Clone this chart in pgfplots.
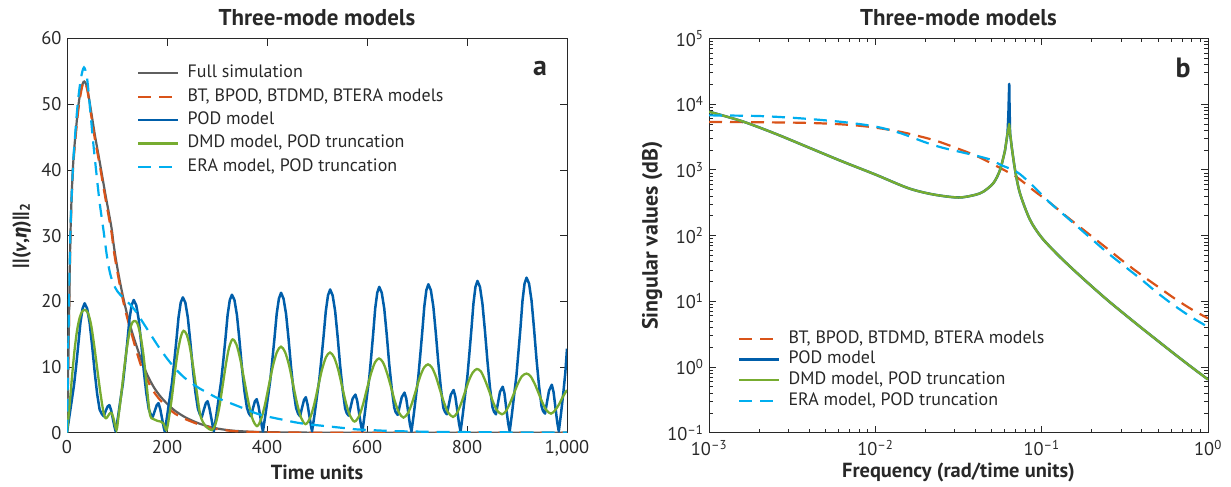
\documentclass[border=0pt]{standalone}
\usepackage{fontspec}
\setmainfont{PT Sans}
\newfontfamily\greekfont{Fira Sans}
\usepackage{pgfplots}
\pgfplotsset{compat=1.18}

\definecolor{cgray}{RGB}{95,95,95}
\definecolor{cbt}{RGB}{217,83,25}
\definecolor{cpod}{RGB}{0,94,170}
\definecolor{cdmd}{RGB}{119,172,48}
\definecolor{cera}{RGB}{0,174,239}
\definecolor{cax}{RGB}{40,40,40}

\pgfplotsset{
  mystyle/.style={
    scale only axis,
    axis line style={cax, line width=1bp},
    every tick/.style={cax, line width=0.8bp},
    major tick length=7bp, minor tick length=4bp,
    tick label style={font=\fontsize{18.5}{21}\selectfont, text=cax},
    xticklabel style={yshift=-4bp},
    yticklabel style={xshift=-2bp},
    /pgf/number format/assume math mode=true,
    every axis title/.style={at={(0.5,1.053)}, anchor=center, font=\bfseries\fontsize{23}{26}\selectfont, text=cax},
    every axis x label/.style={at={(0.5,-0.1)}, anchor=center, font=\bfseries\fontsize{20.5}{24}\selectfont, text=cax},
    legend cell align=left,
    legend style={draw=none, fill=none, font=\fontsize{18}{21}\selectfont, text=cax, column sep=7bp,
      nodes={inner sep=1bp, text height=13bp, text depth=4bp}},
    legend image code/.code={\draw[##1] (0bp,0bp) -- (40bp,0bp);},
  },
  dashedline/.style={dash pattern=on 13bp off 8bp, line width=2.2bp},
}

\begin{document}
\begin{tikzpicture}
\path[use as bounding box] (0bp,0bp) rectangle (1231bp,487bp);

% ---------------- panel a ----------------
\begin{axis}[mystyle,
  at={(67bp,54.3bp)}, anchor=south west,
  width=500bp, height=394.2bp,
  xmin=0, xmax=1000, ymin=0, ymax=60,
  xtick={0,200,400,600,800,1000},
  ytick={0,10,20,30,40,50,60},
  title={Three-mode models},
  xlabel={Time units},
  ylabel={||(\textit{v},{\greekfont\bfseries\itshape η})||\textsubscript{2}},
  every axis y label/.style={at={(-0.0904,0.5)}, rotate=90, anchor=center, font=\bfseries\fontsize{20}{23}\selectfont, text=cax},
  legend style={at={(0.134,0.9415)}, anchor=north west, row sep=4.4bp},
]
\addplot[cgray, line width=2.2bp, smooth] coordinates {
(0,0)(3,12.5)(7,30.5)(12,40.5)(19,47)(25,51)(33,53.4)(40,52.6)(48,49)(56,45.2)(65,41.4)(77,36.2)(89,31.2)(93,28.8)(100,25.4)(109,21.8)(119,18.4)(129,15.6)(139,13.2)(149,11.0)(160,8.9)(173,7.0)(186,5.6)(199,4.5)(215,3.4)(233,2.5)(250,1.85)(266,1.35)(283,0.95)(299,0.66)(316,0.45)(333,0.3)(366,0.15)(400,0.08)(450,0.03)(500,0.01)(600,0)(1000,0)};
\addlegendentry{Full simulation}
\addplot[cbt, dashedline, smooth] coordinates {
(0,0)(3,12)(7,30)(12,40)(19,46.5)(25,50.5)(33,53.4)(40,52.4)(48,48.5)(56,44.6)(65,40.9)(77,35.6)(89,30.5)(93,28.0)(100,24.8)(109,21.2)(119,17.9)(129,15.1)(139,12.4)(149,10.0)(160,8.1)(173,6.3)(186,5.0)(199,4.0)(215,2.95)(233,2.2)(250,1.65)(266,1.2)(283,0.85)(299,0.56)(316,0.38)(333,0.25)(366,0.12)(400,0.06)(450,0.02)(500,0.01)(600,0)(1000,0)};
\addlegendentry{BT, BPOD, BTDMD, BTERA models}
\addplot[cpod, line width=2.5bp, line join=round] coordinates {
(0,0)(4.6,2.4)(9.5,4.9)(14.1,7.3)(18.4,10.2)(22.6,13.4)(26.8,16.7)(31.1,18.9)(35.3,19.7)(40.3,18.9)(45.3,16.7)(50.3,13.2)(55.3,9.3)(60.3,5.9)(65.3,3.5)(69.3,2.9)(73.3,2.5)(77.3,3.3)(81.3,4.0)(84.8,4.2)(88.3,3.4)(92.3,1.9)(95.3,0.8)(97.3,0.2)
(102.0,2.4)(107.1,5.1)(111.8,7.5)(116.1,10.5)(120.5,13.7)(124.8,17.2)(129.2,19.4)(133.5,20.2)(138.5,19.4)(143.5,17.2)(148.5,13.5)(153.5,9.5)(158.5,6.1)(163.5,3.6)(167.5,2.8)(171.5,2.4)(175.5,3.3)(179.5,4.2)(183,4.5)(186.5,3.6)(190.5,2.0)(193.5,0.8)(195.5,0.2)
(200.2,2.5)(205.3,5.2)(210,7.6)(214.3,10.7)(218.7,14.0)(223,17.5)(227.4,19.8)(231.7,20.6)(236.7,19.8)(241.7,17.5)(246.7,13.8)(251.7,9.7)(256.7,6.2)(261.7,3.7)(265.7,2.8)(269.7,2.4)(273.7,3.5)(277.7,4.5)(281.2,4.8)(284.7,3.8)(288.7,2.2)(291.7,0.9)(293.7,0.2)
(298.4,2.5)(303.5,5.3)(308.2,7.8)(312.5,10.9)(316.9,14.3)(321.2,17.9)(325.6,20.2)(329.9,21.0)(334.9,20.2)(339.9,17.9)(344.9,14.1)(349.9,9.9)(354.9,6.3)(359.9,3.8)(363.9,2.9)(367.9,2.5)(371.9,3.7)(375.9,4.8)(379.4,5.1)(382.9,4.1)(386.9,2.3)(389.9,0.9)(391.9,0.2)
(396.6,2.6)(401.7,5.3)(406.4,7.9)(410.7,11.1)(415.1,14.5)(419.4,18.1)(423.8,20.4)(428.1,21.3)(433.1,20.4)(438.1,18.1)(443.1,14.3)(448.1,10.0)(453.1,6.4)(458.1,3.8)(462.1,2.9)(466.1,2.5)(470.1,3.8)(474.1,5.0)(477.6,5.4)(481.1,4.3)(485.1,2.4)(488.1,1.0)(490.1,0.2)
(494.8,2.6)(499.9,5.5)(504.6,8.1)(508.9,11.3)(513.3,14.8)(517.6,18.5)(522,20.9)(526.3,21.8)(531.3,20.9)(536.3,18.5)(541.3,14.6)(546.3,10.2)(551.3,6.5)(556.3,3.7)(559.3,3.0)(563.3,2.6)(567.3,3.9)(571.3,5.2)(576.8,5.8)(580.3,4.9)(584.3,2.9)(587.8,1.2)(590.8,0.2)
(595.2,2.7)(599.9,5.6)(604.3,8.2)(608.3,11.5)(612.4,15.1)(616.4,18.9)(620.5,21.3)(624.5,22.2)(629.5,21.3)(634.5,18.9)(639.5,14.9)(644.5,10.4)(649.5,6.7)(654.5,3.8)(657.5,3.1)(661.5,2.7)(665.5,4.1)(669.5,5.4)(675,6.1)(678.5,5.2)(682.5,3.1)(686,1.2)(689,0.2)
(693.4,2.7)(698.1,5.7)(702.5,8.4)(706.5,11.8)(710.6,15.4)(714.6,19.2)(718.7,21.7)(722.7,22.6)(727.7,21.7)(732.7,19.2)(737.7,15.1)(742.7,10.6)(747.7,6.8)(752.7,3.8)(755.7,3.2)(759.7,2.8)(763.7,4.3)(767.7,5.8)(773.2,6.5)(776.7,5.5)(780.7,3.3)(784.2,1.3)(787.2,0.2)
(791.6,2.8)(796.3,5.8)(800.7,8.5)(804.7,12.0)(808.8,15.7)(812.8,19.6)(816.9,22.2)(820.9,23.1)(825.9,22.2)(830.9,19.6)(835.9,15.5)(840.9,10.9)(845.9,6.9)(850.9,3.9)(853.9,3.2)(857.9,2.8)(861.9,4.5)(865.9,6.2)(871.4,7.0)(874.9,6.0)(878.9,3.5)(882.4,1.4)(885.4,0.2)
(889.8,2.8)(894.5,5.9)(898.9,8.7)(902.9,12.3)(907,16.0)(911,20.1)(915.1,22.7)(919.1,23.6)(924.1,22.7)(929.1,20.1)(934.1,15.8)(939.1,11.1)(944.1,7.1)(949.1,4.0)(952.1,3.3)(956.1,2.9)(960.1,4.7)(964.1,6.4)(969.6,7.3)(973.1,6.2)(977.1,3.7)(980.6,1.5)(983.6,0.2)(988,2.9)(992.7,6.1)(996.7,9.2)(1000,12.8)};
\addlegendentry{POD model}
\addplot[cdmd, line width=2.3bp, smooth, tension=0.5] coordinates {
(0,0)(5,4)(10,8.5)(15,12.5)(20,15.5)(25,17.4)(30,18.4)(36,18.7)(42,18.2)(48,16.5)(54,13.5)(60,10)(66,6.5)(72,3.5)(76,2.3)(80,2.3)(85,2.9)(89,3.0)(93,2.2)(99,0.4)
(103,2.5)(108,5.5)(114,9.5)(120,13)(126,15.7)(131,16.8)(136,17.0)(141,16.6)(147,14.8)(153,11.8)(159,7.5)(165,3.2)(169,2.2)(175,2.0)(181,1.8)(187,1.7)(193,1.4)(199,0.4)
(204,2.3)(210,5.5)(216,9.3)(222,12.5)(228,14.7)(233,15.5)(239,15.0)(245,13.3)(252,10.2)(259,6.5)(266,2.9)(272,1.6)(280,0.8)(290,0.4)
(297,1.3)(304,3.6)(311,7)(318,10.5)(324,12.9)(331,14.2)(339,13.4)(347,11.0)(355,7.8)(363,4.6)(371,2.1)(380,1.0)
(388,2.0)(396,4.3)(404,7.3)(412,10.2)(420,12.3)(428,13.1)(436,12.3)(444,10.3)(452,7.4)(460,4.5)(468,2.3)(477,1.3)
(486,2.2)(494,4.2)(502,6.9)(510,9.6)(518,11.5)(526,12.2)(534,11.5)(542,9.7)(550,7.1)(558,4.5)(566,2.6)(575,1.7)
(584,2.5)(592,4.3)(600,6.7)(608,9.0)(616,10.7)(624,11.3)(632,10.7)(640,9.1)(648,6.95)(656,4.7)(664,3.05)(673,2.3)
(682,3.0)(690,4.5)(698,6.5)(706,8.5)(714,9.9)(722,10.4)(730,9.9)(738,8.5)(746,6.5)(754,4.6)(762,3.1)(772,2.4)
(780,3.0)(788,4.4)(796,6.2)(804,8.0)(812,9.2)(820,9.7)(828,9.3)(836,8.0)(844,6.4)(852,4.7)(860,3.4)(870,2.8)
(878,3.3)(886,4.5)(894,6.0)(902,7.5)(910,8.6)(919,9.0)(927,8.6)(935,7.5)(943,6.05)(951,4.55)(959,3.4)(968,2.9)
(976,3.4)(984,4.3)(992,5.5)(1000,6.5)};
\addlegendentry{DMD model, POD truncation}
\addplot[cera, dashedline, smooth] coordinates {
(0,0)(3,15)(7,31)(12,40.5)(17,46)(22,50.5)(28,54)(34,55.6)(40,54)(46,49.5)(52,44.5)(57,40.8)(65,35.2)(73,30.8)(80,26.8)(86,24.3)(93,22.6)(101,21.5)(109,20.8)(120,20.0)(130,19.2)(140,18.2)(150,17.0)(166,15.1)(183,13.1)(200,11.3)(216,9.8)(233,8.5)(250,7.5)(266,6.7)(283,6.0)(300,5.3)(320,4.7)(340,4.1)(360,3.5)(380,2.9)(405,2.4)(430,2.0)(455,1.6)(480,1.3)(505,1.1)(530,0.9)(555,0.7)(580,0.5)(615,0.37)(650,0.25)(700,0.17)(750,0.12)(800,0.09)(850,0.06)(900,0.05)(1000,0.03)};
\addlegendentry{ERA model, POD truncation}
\node[font=\bfseries\fontsize{28}{30}\selectfont, text=cax] at (rel axis cs:0.946,0.925) {a};
\end{axis}

% ---------------- panel b ----------------
\begin{axis}[mystyle,
  at={(709bp,54.3bp)}, anchor=south west,
  width=499bp, height=394.2bp,
  xmode=log, ymode=log,
  xmin=0.001, xmax=1, ymin=0.1, ymax=100000,
  xtick={0.001,0.01,0.1,1},
  xticklabels={10\textsuperscript{–3},10\textsuperscript{–2},10\textsuperscript{–1},10\textsuperscript{0}},
  ytick={0.1,1,10,100,1000,10000,100000},
  yticklabels={10\textsuperscript{–1},10\textsuperscript{0},10\textsuperscript{1},10\textsuperscript{2},10\textsuperscript{3},10\textsuperscript{4},10\textsuperscript{5}},
  minor xtick={0.002,0.003,0.004,0.005,0.006,0.007,0.008,0.009,0.02,0.03,0.04,0.05,0.06,0.07,0.08,0.09,0.2,0.3,0.4,0.5,0.6,0.7,0.8,0.9},
  minor ytick={0.2,0.3,0.4,0.5,0.6,0.7,0.8,0.9,2,3,4,5,6,7,8,9,20,30,40,50,60,70,80,90,200,300,400,500,600,700,800,900,2000,3000,4000,5000,6000,7000,8000,9000,20000,30000,40000,50000,60000,70000,80000,90000},
  title={Three-mode models},
  xlabel={Frequency (rad/time units)},
  ylabel={Singular values (dB)},
  every axis y label/.style={at={(-0.114,0.5)}, rotate=90, anchor=center, font=\bfseries\fontsize{22}{25}\selectfont, text=cax},
  legend style={at={(0.052,0.268)}, anchor=north west, row sep=1.7bp},
]
\addplot[cbt, dashedline, smooth] coordinates {
(0.001,5370)(0.003162,5248)(0.005623,5012)(0.008913,4571)(0.01413,3802)(0.02239,2851)(0.03090,2138)(0.04074,1622)(0.05623,1072)(0.07079,776)(0.08913,490)(0.1122,316)(0.1413,195)(0.1995,98)(0.2512,61.7)(0.3162,38.9)(0.3981,25.1)(0.5012,16.6)(0.6310,11.0)(0.7943,7.59)(1,5.50)};
\addlegendentry{BT, BPOD, BTDMD, BTERA models}
% POD model: smooth low-frequency part, sharp resonance, smooth roll-off
\addplot[cpod, line width=2.5bp, smooth] coordinates {
(0.001,7691)(0.001585,5495)(0.002512,3548)(0.003981,2188)(0.006310,1349)(0.01,851)(0.01585,525)(0.02239,422)(0.03162,380)(0.03981,417)(0.04467,468)(0.05129,631)(0.05623,1000)(0.06026,1995)};
\addlegendentry{POD model}
\addplot[cpod, line width=2.5bp, line join=round, forget plot] coordinates {
(0.06026,1995)(0.06237,3631)(0.06310,7000)(0.06383,20400)(0.06412,9000)(0.06457,3631)(0.06607,2239)};
\addplot[cpod, line width=2.5bp, smooth, forget plot] coordinates {
(0.06607,2239)(0.06918,1000)(0.07413,437)(0.08511,174)(0.1,93.3)(0.1259,50.1)(0.1585,28.8)(0.1995,17.0)(0.2512,10.2)(0.3162,6.31)(0.3981,3.94)(0.5012,2.48)(0.6310,1.567)(0.7943,1.0)(1,0.646)};
% DMD model
\addplot[cdmd, line width=2.3bp, smooth] coordinates {
(0.001,7691)(0.001585,5495)(0.002512,3548)(0.003981,2188)(0.006310,1349)(0.01,851)(0.01585,525)(0.02239,422)(0.03162,380)(0.03981,417)(0.04467,468)(0.05129,631)(0.05623,1000)(0.06026,1995)};
\addlegendentry{DMD model, POD truncation}
\addplot[cdmd, line width=2.3bp, line join=round, forget plot] coordinates {
(0.06026,1995)(0.06237,3631)(0.06383,5012)(0.06457,3631)(0.06607,2239)};
\addplot[cdmd, line width=2.3bp, smooth, forget plot] coordinates {
(0.06607,2239)(0.06918,1000)(0.07413,437)(0.08511,174)(0.1,93.3)(0.1259,50.1)(0.1585,28.8)(0.1995,17.0)(0.2512,10.2)(0.3162,6.31)(0.3981,3.94)(0.5012,2.48)(0.6310,1.567)(0.7943,1.0)(1,0.646)};
\addplot[cera, dashedline, smooth] coordinates {
(0.001,6761)(0.001995,6607)(0.003548,6095)(0.006310,5370)(0.01,4571)(0.01413,3631)(0.01995,2630)(0.02512,2188)(0.03162,1905)(0.03981,1660)(0.05012,1413)(0.05623,1202)(0.07079,933)(0.08511,631)(0.1122,316)(0.1413,191)(0.1995,89)(0.2512,53.7)(0.3162,33.9)(0.3981,21.4)(0.5012,13.2)(0.6310,8.51)(0.7943,5.75)(1,4.07)};
\addlegendentry{ERA model, POD truncation}
\node[font=\bfseries\fontsize{28}{30}\selectfont, text=cax] at (rel axis cs:0.95,0.925) {b};
\end{axis}
\end{tikzpicture}
\end{document}
